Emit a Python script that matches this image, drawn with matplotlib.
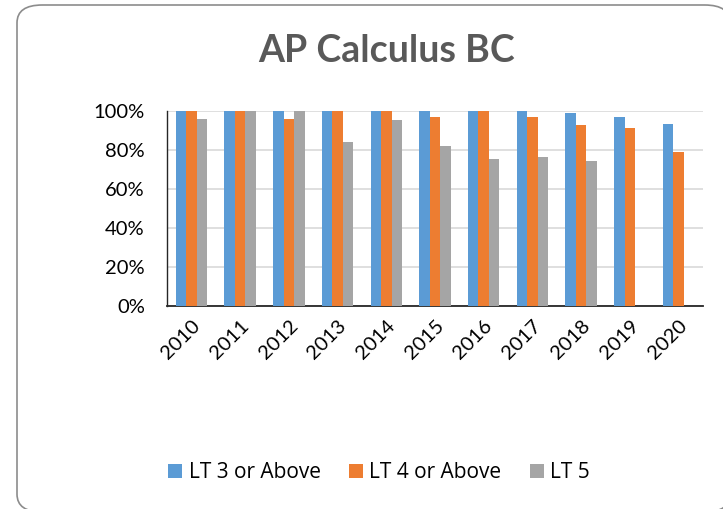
import matplotlib.pyplot as plt
import numpy as np
from matplotlib.patches import FancyBboxPatch
from matplotlib.ticker import PercentFormatter

years = ['2010', '2011', '2012', '2013', '2014', '2015', '2016', '2017', '2018', '2019', '2020']
lt3_above = [1.00, 1.00, 1.00, 1.00, 1.00, 1.00, 1.00, 1.00, 0.986, 0.969, 0.930]
lt4_above = [1.00, 1.00, 0.957, 1.00, 1.00, 0.969, 1.00, 0.969, 0.925, 0.910, 0.789]
lt5 = [0.959, 1.00, 1.00, 0.840, 0.951, 0.819, 0.753, 0.761, 0.741, np.nan, np.nan]

series_names = ['LT 3 or Above', 'LT 4 or Above', 'LT 5']
colors = ['#5B9BD5', '#ED7D31', '#A5A5A5']

fig = plt.figure(figsize=(7.23, 5.09), dpi=100)

# rounded chart border (runs off the right and bottom edges)
border = FancyBboxPatch((17 / 723, -3 / 509), 713 / 723, 507 / 509,
                        boxstyle='round,pad=0,rounding_size=0.035',
                        transform=fig.transFigure, facecolor='white',
                        edgecolor='#8C8C8C', linewidth=1.2, zorder=-1)
fig.patches.append(border)

ax = fig.add_axes([167 / 723, 1 - 306 / 509, 536 / 723, 195.3 / 509])
ax.set_zorder(2)
ax.set_facecolor('none')

x = np.arange(len(years))
w = 0.215
for i, (vals, name, c) in enumerate(zip([lt3_above, lt4_above, lt5], series_names, colors)):
    ax.bar(x + (i - 1) * w, vals, width=w, color=c, label=name, zorder=3)

ax.set_xlim(-0.5, len(years) - 0.5)
ax.set_ylim(0, 1)
ax.set_yticks(np.arange(0, 1.01, 0.2))
ax.yaxis.set_major_formatter(PercentFormatter(1.0, decimals=0))
ax.grid(axis='y', color='#D9D9D9', linewidth=1.2, zorder=0)
ax.set_xticks(x)
ax.set_xticklabels(years, rotation=45, ha='right', va='top', rotation_mode='anchor')

for s in ['top', 'right']:
    ax.spines[s].set_visible(False)
ax.spines['left'].set_color('#262626')
ax.spines['bottom'].set_color('#262626')
ax.spines['left'].set_linewidth(1.0)
ax.spines['bottom'].set_linewidth(1.3)
ax.tick_params(axis='both', length=0, labelsize=14.5, labelcolor='black')
ax.tick_params(axis='x', pad=8)
ax.tick_params(axis='y', pad=16)
for lbl in ax.get_xticklabels() + ax.get_yticklabels():
    lbl.set_fontfamily('Lato')

fig.text(387 / 723, 1 - 51 / 509, 'AP Calculus BC', ha='center', va='center',
         fontsize=27, fontweight='bold', color='#595959', family='Lato')

fig.legend(loc='center', bbox_to_anchor=(379 / 723, 1 - 473 / 509), ncol=3,
           frameon=False, prop={'family': 'Open Sans', 'size': 15},
           handlelength=0.67, handleheight=0.67, handletextpad=0.32, columnspacing=1.35)

plt.savefig('out.png', dpi=100)
